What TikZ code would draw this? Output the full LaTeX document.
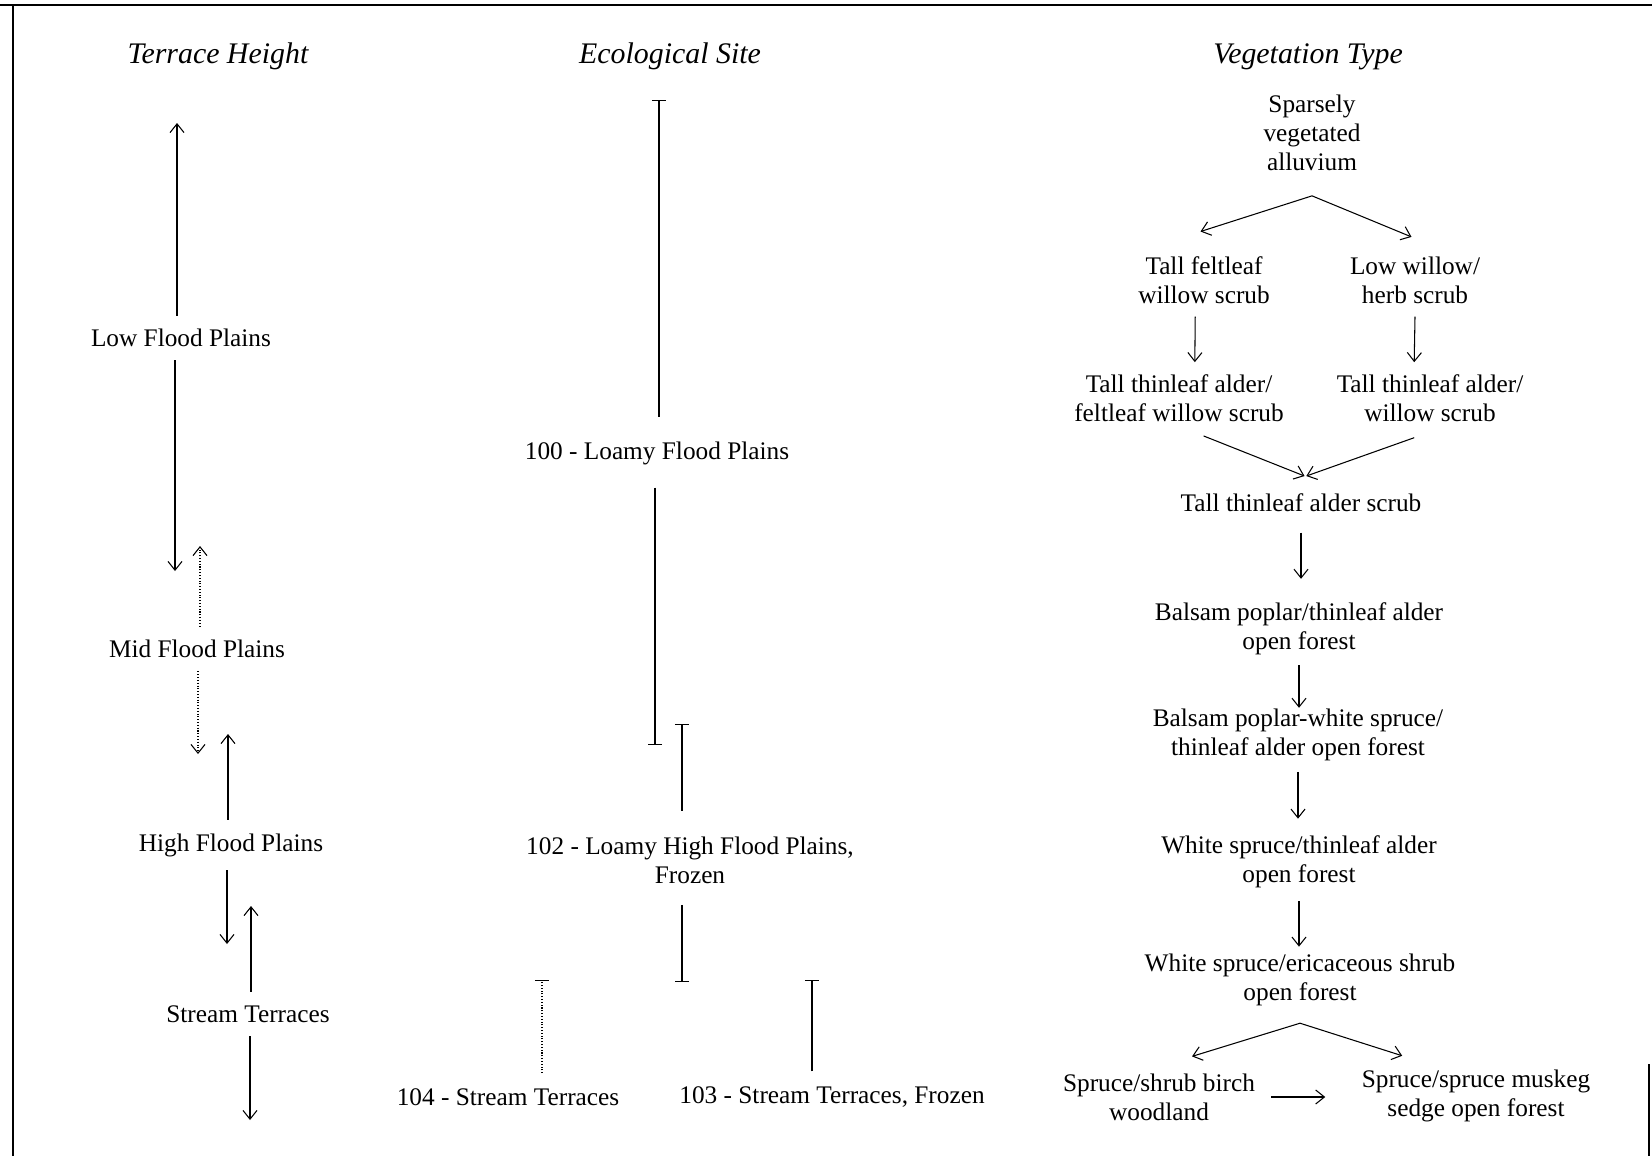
\documentclass[tikz,border=0pt]{standalone}
\usepackage{fontspec}
\setmainfont{Liberation Serif}
\usetikzlibrary{arrows.meta}

\begin{document}
\begin{tikzpicture}[x=0.2mm,y=-0.2mm]
      \tikzstyle{every node}=[font=\fontsize{14.4}{16.5}\selectfont, align=center, inner sep=3pt]
      \tikzstyle{title}=[font=\fontsize{17}{20}\selectfont\itshape]
      \tikzstyle{arr}=[-{Straight Barb[length=5pt,width=8pt]}, line width=0.6pt]
      \tikzstyle{tbar}=[-{Bar[width=8pt]}, line width=0.6pt]
      \tikzstyle{lgap}=[shorten <=4.5pt]
      \useasboundingbox (0,0) rectangle (1652,1156);

      % frame of the scan
      \draw[line width=0.9pt] (0,5) -- (1652,5);
      \draw[line width=0.6pt] (13,5) -- (13,1156);
      \draw[line width=0.9pt] (1649,1064) -- (1649,1156);

      % headings
      \node[title] (th) at (218,56) {Terrace Height};
      \node[title] (es) at (670,56) {Ecological Site};
      \node[title] (vt) at (1308,57) {Vegetation Type};

      % terrace height
      \node (low) at (181,338) {Low Flood Plains};
      \node (mid) at (197,649) {Mid Flood Plains};
      \node (high) at (231,845) {High Flood Plains};
      \node (stream) at (248,1014) {Stream Terraces};
      \coordinate (lowtop) at (177,123);
      \coordinate (lowbot) at (175,571);
      \coordinate (midtop) at (200,546);
      \coordinate (midbot) at (198,754);
      \coordinate (hightop) at (228,734);
      \coordinate (highbot) at (227,944);
      \coordinate (streamtop) at (251,906);
      \coordinate (streambot) at (250,1120);

      \draw[arr,lgap] (low.north -| lowtop) -- (lowtop);
      \draw[arr,lgap] (low.south -| lowbot) -- (lowbot);
      \draw[arr,lgap,densely dotted] (mid.north -| midtop) -- (midtop);
      \draw[arr,lgap,densely dotted] (mid.south -| midbot) -- (midbot);
      \draw[arr,lgap] (high.north -| hightop) -- (hightop);
      \draw[arr,lgap] (high.south -| highbot) -- (highbot);
      \draw[arr,lgap] (stream.north -| streamtop) -- (streamtop);
      \draw[arr,lgap] (stream.south -| streambot) -- (streambot);

      % ecological site
      \node (s100) at (657,453) {100 - Loamy Flood Plains};
      \node (s102) at (690,860) {102 - Loamy High Flood Plains,\\Frozen};
      \node (s104) at (508,1097) {104 - Stream Terraces};
      \node (s103) at (832,1097) {103 - Stream Terraces, Frozen};
      \coordinate (s100top) at (659,100);
      \coordinate (s100bot) at (655,745);
      \coordinate (s102top) at (682,724);
      \coordinate (s102bot) at (682,982);
      \coordinate (s104top) at (542,980);
      \coordinate (s103top) at (812,980);

      \draw[tbar,shorten <=11pt] (s100.north -| s100top) -- (s100top);
      \draw[tbar,shorten <=10pt] (s100.south -| s100bot) -- (s100bot);
      \draw[tbar,shorten <=11.5pt] (s102.north -| s102top) -- (s102top);
      \draw[tbar,shorten <=9pt] (s102.south -| s102bot) -- (s102bot);
      \draw[tbar,shorten <=5.5pt,densely dotted] (s104.north -| s104top) -- (s104top);
      \draw[tbar,shorten <=5.5pt] (s103.north -| s103top) -- (s103top);

      % vegetation type
      \node (sparse) at (1312,133) {Sparsely\\vegetated\\alluvium};
      \node (feltleaf) at (1204,280) {Tall feltleaf\\willow scrub};
      \node (lowwillow) at (1415,280) {Low willow/\\herb scrub};
      \node (alderfelt) at (1179,398) {Tall thinleaf alder/\\feltleaf willow scrub};
      \node (alderwillow) at (1430,398) {Tall thinleaf alder/\\willow scrub};
      \node (alder) at (1301,503) {Tall thinleaf alder scrub};
      \node (balsam) at (1299,629) {Balsam poplar/thinleaf alder\\open forest};
      \node (balsamspruce) at (1298,735) {Balsam poplar-white spruce/\\thinleaf alder open forest};
      \node (spruce) at (1299,862) {White spruce/thinleaf alder\\open forest};
      \node (ericaceous) at (1300,980) {White spruce/ericaceous shrub\\open forest};
      \node (birch) at (1159,1097) {Spruce/shrub birch\\woodland};
      \node (muskeg) at (1476,1096) {Spruce/spruce muskeg\\sedge open forest};

      \coordinate (fork1) at ([yshift=-11pt]sparse.south);
      \coordinate (fork2) at ([yshift=-6.6pt]ericaceous.south);

      \draw[arr] (fork1) -- ([xshift=-2pt,yshift=11pt]feltleaf.north);
      \draw[arr] (fork1) -- ([xshift=-2pt,yshift=8pt]lowwillow.north);
      \draw[arr] ([xshift=-5pt,yshift=-4.3pt]feltleaf.south) -- ([xshift=9pt,yshift=3.8pt]alderfelt.north);
      \draw[arr] ([yshift=-4.3pt]lowwillow.south) -- ([xshift=-9pt,yshift=3.8pt]alderwillow.north);
      \draw[arr] ([xshift=14pt,yshift=-5pt]alderfelt.south) -- ([xshift=2pt,yshift=7pt]alder.north);
      \draw[arr] ([xshift=-9pt,yshift=-6pt]alderwillow.south) -- ([xshift=3pt,yshift=7pt]alder.north);
      \draw[arr,shorten <=8.5pt,shorten >=10.5pt] (alder.south) -- (alder.south |- balsam.north);
      \draw[arr,shorten <=2.6pt,shorten >=-2.5pt] (balsam.south) -- (balsam.south |- balsamspruce.north);
      \draw[arr,shorten <=3pt,shorten >=6.6pt] (balsamspruce.south) -- (balsamspruce.south |- spruce.north);
      \draw[arr,shorten <=4.3pt,shorten >=1pt] (spruce.south) -- (spruce.south |- ericaceous.north);
      \draw[arr] (fork2) -- ([xshift=18.8pt,yshift=6.6pt]birch.north);
      \draw[arr] (fork2) -- ([xshift=-42pt,yshift=4.9pt]muskeg.north);
      \draw[arr,shorten <=6pt,shorten >=17.6pt] (birch.east) -- (birch.east -| muskeg.west);
\end{tikzpicture}
\end{document}
